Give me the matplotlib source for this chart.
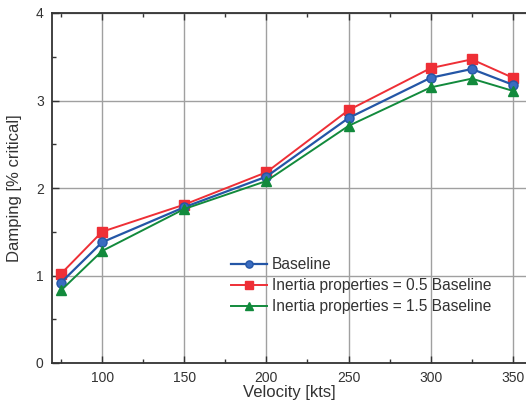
import matplotlib.pyplot as plt
from matplotlib.ticker import MultipleLocator

# velocity [kts] and damping [% critical]
velocity = [75, 100, 150, 200, 250, 300, 325, 350]
baseline = [0.92, 1.38, 1.78, 2.13, 2.80, 3.26, 3.36, 3.18]
inertia_05 = [1.02, 1.50, 1.81, 2.18, 2.89, 3.37, 3.47, 3.26]
inertia_15 = [0.83, 1.28, 1.76, 2.08, 2.71, 3.15, 3.25, 3.11]

labels = ['Baseline', 'Inertia properties = 0.5 Baseline', 'Inertia properties = 1.5 Baseline']

plt.rcParams['font.family'] = ['Liberation Sans', 'DejaVu Sans']

fig = plt.figure(figsize=(5.26, 4.01), dpi=100)
ax = fig.add_axes([52 / 526, 1 - 363 / 401, 1 - 52 / 526, 350 / 401])

ax.plot(velocity, baseline, color='#2456a6', marker='o', markersize=6.5, lw=1.6,
        markeredgecolor='#2456a6', markerfacecolor='#3a6cc0', label=labels[0], zorder=4)
ax.plot(velocity, inertia_05, color='#ee2f36', marker='s', markersize=6.5, lw=1.4,
        label=labels[1], zorder=3)
ax.plot(velocity, inertia_15, color='#128a3c', marker='^', markersize=7, lw=1.4,
        label=labels[2], zorder=5)

ax.set_xlim(69.5, 358)
ax.set_ylim(0, 4)
ax.xaxis.set_major_locator(MultipleLocator(50))
ax.xaxis.set_minor_locator(MultipleLocator(25))
ax.yaxis.set_major_locator(MultipleLocator(1))
ax.yaxis.set_minor_locator(MultipleLocator(0.5))
ax.grid(True, which='major', color='#a0a0a0', lw=1.0)
ax.set_axisbelow(True)

ax.tick_params(which='both', direction='in', top=True, right=False,
               labelsize=10, colors='#333333', pad=6)
ax.tick_params(which='major', length=5, width=1)
ax.tick_params(which='minor', length=3, width=1)
for s in ['left', 'bottom', 'top']:
    ax.spines[s].set_color('#333333')
    ax.spines[s].set_linewidth(1.3)
ax.spines['right'].set_visible(False)

ax.set_xlabel('Velocity [kts]', fontsize=12, color='#333333', labelpad=0)
ax.set_ylabel('Damping [% critical]', fontsize=12, color='#333333', labelpad=10)

leg = ax.legend(loc='upper left', bbox_to_anchor=(0.365, 0.32), frameon=False,
                fontsize=11.2, handlelength=2.3, handletextpad=0.3, labelspacing=0.38,
                borderaxespad=0, markerscale=0.8)
for t in leg.get_texts():
    t.set_color('#333333')

fig.savefig('out.png', dpi=100)
